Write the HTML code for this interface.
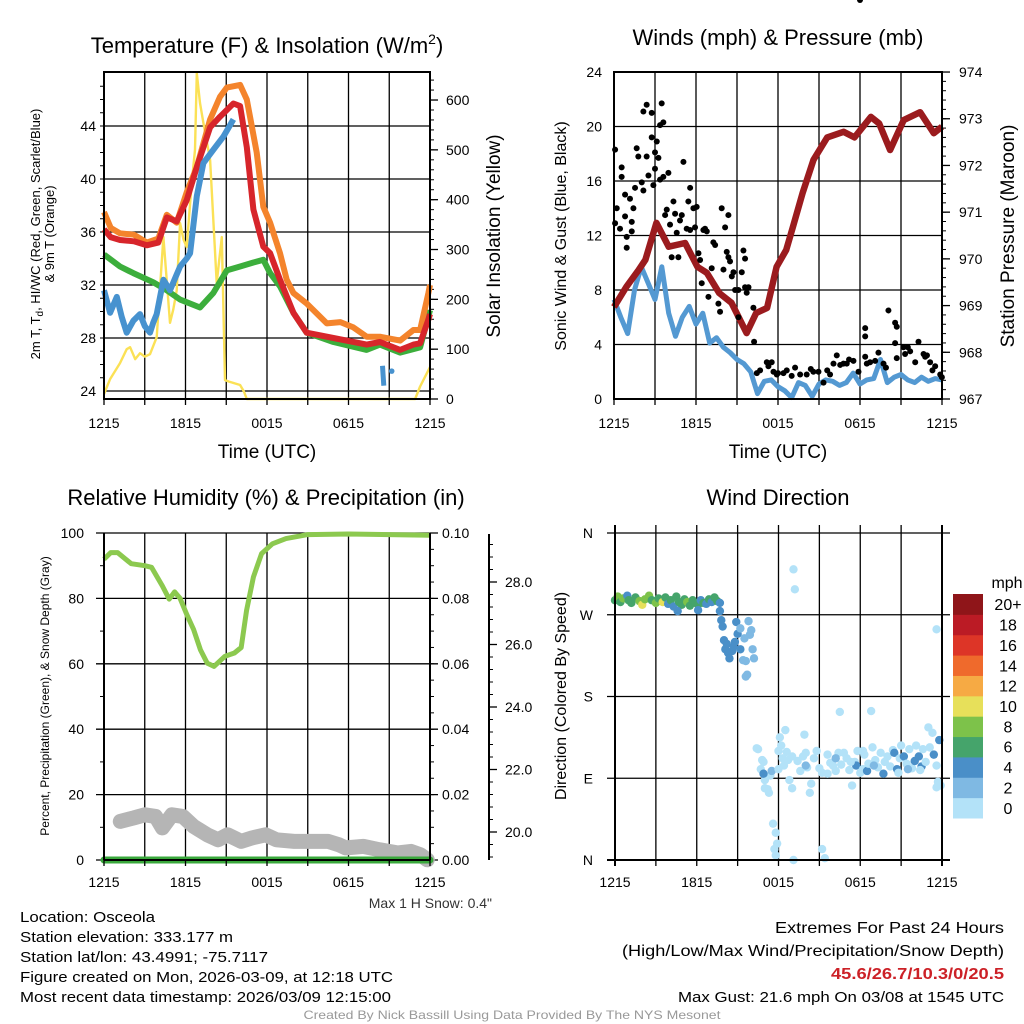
<!DOCTYPE html>
<html><head><meta charset="utf-8"><style>
html,body{margin:0;padding:0;background:#fff;}
svg{display:block;font-family:"Liberation Sans",Arial,sans-serif;}
</style></head><body>
<svg id="c" width="1024" height="1024" viewBox="0 0 1024 1024" xmlns="http://www.w3.org/2000/svg"></svg>
<script>
// ---- Panel 1 data: temperature (F) & insolation ----
const orangeH=[0,0.5,1.18,2.2,3.15,4.0,4.62,5.35,6.09,6.83,7.81,8.54,9.04,10.02,10.51,11.24,11.73,12.23,12.96,13.45,13.94,14.92,16.4,17.4,18.36,19.34,20.32,21.8,22.78,23.27,23.88,24];
const orangeT=[37.5,36.3,35.9,35.8,35.2,35.5,37.3,36.7,39,40.9,44.5,46.2,46.9,47.1,46,42,37.9,36.7,34.4,32.4,31.4,30.6,29.1,29.2,28.8,28.1,28.1,27.8,28.6,28.6,31.4,32];
const redH=[0,0.5,1.18,2.2,3.15,4.0,4.62,5.35,6.09,6.83,7.81,8.54,9.53,10.02,10.51,11.0,11.73,12.23,12.96,13.94,14.92,16.89,19.34,20.32,21.8,22.78,23.27,23.88,24];
const redT=[36.2,35.6,35.4,35.3,35,35.2,37.1,36.8,38.4,40.9,43.9,44.7,45.7,45.5,42.4,37.7,34.9,34.4,32.4,29.9,28.4,28,27.5,27.7,27.1,27.5,27.6,29.4,29.8];
const greenH=[0,1.18,2.16,3.64,4.62,5.6,7.07,8.05,9.04,10.02,11.0,11.73,12.23,12.96,13.94,14.92,16.89,19.34,20.32,21.8,23.27,24];
const greenT=[34.3,33.4,32.9,32.2,31.6,30.9,30.3,31.4,33.1,33.4,33.7,33.9,32.9,31.9,29.9,28.4,27.7,27.1,27.5,26.9,27.3,30.1];
const hiwcH=[0,0.45,0.94,1.3,1.67,2.16,2.65,3.0,3.39,3.64,3.88,4.37,4.86,5.35,5.6,6.09,6.34,6.83,7.32,8.05,8.79,9.53];
const hiwcT=[31.6,29.9,31.1,29.6,28.4,29.3,29.8,28.9,28.4,29.2,29.8,32.4,31.6,32.8,33.4,34,34.4,38.7,41.2,42.2,43.2,44.5];
const hiwc2H=[20.5,20.55,20.6,21.18];
const hiwc2T=[25.9,25.2,24.4,25.5];
const solarH=[0,0.45,1.18,1.67,1.92,2.3,2.65,3.0,3.39,3.88,4.37,4.86,5.1,5.35,5.6,5.85,6.09,6.46,6.7,6.83,7.07,7.32,7.81,8.3,8.67,8.91,9.2,10.02,10.3,10.51,22.9,23.27,24];
const solarV=[10,40,72,100,104,80,92,85,90,124,325,153,180,218,353,320,305,433,500,654,594,554,480,233,325,38,35,28,15,0,0,25,64];
const tempTicks=[24,28,32,36,40,44];
const solarTicks=[0,100,200,300,400,500,600];
const timeLabels=["1215","1815","0015","0615","1215"];

// ---- Panel 2 data: winds & pressure ----
const presH=[0,0.9,1.8,2.3,3.1,4,5.2,6.1,6.8,7.7,8.6,9.7,10.4,11.2,11.9,12.6,13.1,13.8,14.6,15.6,16.8,17.6,18.8,19.4,20.2,21.2,22.4,23.4,24];
const presV=[968.97,969.4,969.76,969.98,970.77,970.26,970.34,969.83,969.7,969.27,969.06,968.41,968.84,968.95,969.83,970.19,970.69,971.41,972.12,972.6,972.72,972.6,973.04,972.9,972.33,972.97,973.14,972.69,972.83];
const windV=[7.3,6,4.8,8,9.7,8.5,7.3,9.7,6.3,4.6,6,6.8,5.5,6.3,4.1,4.5,3.8,3.4,2.9,2.6,2.0,0.4,1.3,1.4,0.9,0.6,0.1,1.2,1.0,0.2,1.1,1.4,1.3,1.0,1.2,1.9,1.1,1.4,1.5,2.9,1.2,1.6,1.8,1.4,1.2,1.6,1.3,1.5,1.4];
const gustH=[0.08,0.08,0.2,0.56,0.56,0.44,0.81,0.93,0.93,0.81,1.3,1.17,1.42,1.3,1.54,1.66,1.78,2.03,2.15,2.15,2.39,2.39,2.52,2.76,2.76,2.88,3.0,3.13,3.0,3.25,3.37,3.49,3.61,3.37,3.61,3.98,3.86,3.74,4.1,4.22,4.35,4.47,4.59,4.83,4.71,4.96,5.08,5.32,5.44,5.57,5.57,5.81,5.93,6.05,6.18,6.3,6.42,6.54,6.66,6.79,6.91,7.15,7.27,7.4,7.64,7.76,7.88,8.13,8.01,8.25,8.37,8.37,8.49,8.62,8.74,8.86,9.1,9.1,9.35,9.47,9.59,9.59,9.84,9.71,10.2,10.25,10.45,10.69,11.18,11.54,11.67,11.91,12.4,12.64,13.25,13.62,14.1,14.59,14.96,15.33,15.81,16.06,16.55,16.79,17.03,17.52,17.89,18.38,18.38,18.38,18.5,18.74,19.11,19.35,19.72,20.08,20.57,20.57,20.69,20.69,21.18,21.3,21.67,22.04,22.28,22.65,22.77,23.13,23.5,23.87,23.99,12.0,13.0,14.4,15.6,17.2,19.9,21.5,22.9,23.3,11.3,16.3,18.0];
const gustV=[18.3,12.9,14,17,16.3,12.5,13.4,11.9,11.1,15,13,14.7,14,12.3,15.5,18.4,17.8,15.9,15.3,21.1,21.6,17.8,16.4,21,19.2,15.7,18.1,18.9,16.9,17.7,20.1,21.7,20.3,16.1,16.3,16.6,13.9,13.5,12.8,10.4,14.5,13.6,12.2,13.1,10.4,13.5,17.4,12.5,14.5,15.5,12.4,14,12.6,14.1,10.7,10.2,8.5,12.4,12.5,12.3,7.5,9.6,11.5,11.3,7.0,6.4,14,12.6,9.5,10.8,10.4,13.5,10.1,9.0,9.3,8,8,6,9.3,10.9,10.3,8.2,8.2,7.8,6.7,4.2,1.9,2.1,2.7,2.7,2.0,1.8,1.9,2.1,2.3,1.8,1.8,2.0,2.0,1.2,1.8,2.6,2.5,2.6,2.6,2.8,2.0,3.1,4.6,5.2,2.6,2.7,2.8,3.4,2.6,6.5,5.6,4.1,3.0,5.3,3.8,3.3,3.5,2.7,4.2,3.3,3.1,2.7,2.4,1.8,1.6,1.9,1.7,2.2,2.1,2.9,2.3,3.8,3.2,2.1,2.4,3.2];
const windTicks=[0,4,8,12,16,20,24];
const presTicks=[967,968,969,970,971,972,973,974];

// ---- Panel 3 data: RH, precip, snow depth ----
const rhH=[0,0.5,1.0,2,3,3.5,4.3,4.8,5.2,5.6,6.1,6.6,7.1,7.6,8.1,8.9,9.6,10.1,10.5,11,11.6,12.4,13.4,15,18,21,24];
const rhV=[92,94,94,90.6,90,89.5,83.8,79.8,82,80,75,70.5,64.3,60.2,59.2,62.3,63.3,65,76.4,86.5,93.7,96.7,98.3,99.5,99.7,99.5,99.3];
const precipH=[0,24];
const precipV=[0,0];
const sdH=[1.2,2.2,3,3.8,4.3,5.0,5.8,6.6,7.6,8.4,9.1,10.1,10.9,11.9,12.7,14,16.5,17.3,17.8,19.1,20.3,21.6,22.6,23.3,23.8];
const sdV=[20.34,20.45,20.55,20.5,20.13,20.55,20.5,20.18,19.91,19.75,19.91,19.7,19.81,19.91,19.75,19.7,19.7,19.59,19.49,19.54,19.43,19.33,19.38,19.27,19.11];
const rhTicks=[0,20,40,60,80,100];
const precipTicks=["0.00","0.02","0.04","0.06","0.08","0.10"];
const sdTicks=[20,22,24,26,28];

// ---- Panel 4 data: wind direction coloured by speed ----
const dirH=[0.0,0.2,0.4,0.6,0.9,1.0,1.2,1.5,1.8,2.0,2.2,2.5,2.7,3.0,3.2,3.5,3.7,3.9,4.1,4.3,4.5,4.7,4.9,5.1,5.3,5.5,5.7,5.9,6.1,6.3,6.5,6.7,6.9,7.1,7.3,7.5,7.7,4.6,6.1,
7.7,7.8,7.9,8.0,8.1,8.3,8.2,8.4,8.6,8.7,8.9,9.0,8.8,9.2,9.4,9.6,9.8,9.9,10.0,10.1,10.2,9.6,9.7,9.2,9.5,
10.4,10.5,10.7,10.9,11.0,11.0,11.2,11.4,10.9,11.3,11.6,11.8,11.9,11.8,11.7,12.0,12.1,12.2,12.3,12.4,12.5,12.6,12.7,12.8,13.0,13.1,13.2,13.1,13.4,13.6,13.8,13.9,14.0,14.1,14.3,14.4,14.6,14.8,15.0,15.2,15.2,15.4,15.6,15.8,16.0,16.2,16.4,16.5,16.6,16.8,17.0,17.2,17.4,17.6,17.7,17.8,18.0,18.2,18.3,18.5,18.6,18.8,18.9,19.1,19.3,19.5,19.7,19.8,20.0,20.2,20.4,20.5,20.7,20.9,21.0,21.2,21.4,21.6,21.8,22.0,22.1,22.3,22.5,22.6,22.8,23.0,23.1,23.3,23.4,23.6,23.7,23.6,23.8,23.9,23.6,11.5,14.0,16.2,19.0,21.5,17.3,13.0,12.0,15.6,18.2,20.8,22.4,10.8];
const dirV=[286,290,284,288,291,286,283,289,285,281,287,291,286,283,288,284,289,282,286,279,290,284,281,287,284,280,286,283,281,286,283,282,287,284,289,285,283,274,275,
274,264,257,242,232,228,238,222,230,235,262,249,240,232,220,219,263,248,253,232,222,202,204,255,244,
123,122,100,108,88,79,78,93,95,74,40,30,18,5,12,120,135,126,112,104,143,119,110,88,79,320,298,0,109,98,114,138,118,102,74,84,112,120,101,96,12,2,116,107,104,98,118,163,105,118,112,99,82,108,104,120,96,100,116,98,106,164,124,110,102,118,95,108,114,103,121,118,100,112,126,114,106,122,101,109,126,114,103,122,108,146,124,140,116,104,86,254,132,82,80,98,104,112,104,100,108,114,100,95,120,96,99,110];
const dirS=[7,8,6,9,4,6,7,6,8,10,9,8,7,8,7,10,6,5,6,4,7,6,6,6,8,6,6,6,6,4,6,4,6,4,6,6,4,4,4,
4,4,4,4,4,4,4,4,4,4,4,4,4,4,3,2,2,3,2,2,2,2,2,2,2,
1,1,1,1,1,1,1,1,4,1,1,1,1,1,1,1,1,1,1,1,1,1,1,1,1,1,1,1,1,1,1,1,1,1,1,1,1,1,1,1,1,1,1,1,1,1,1,1,1,1,1,1,1,1,4,1,1,1,1,4,1,1,1,1,1,1,4,1,1,1,1,4,4,1,1,4,1,1,1,4,1,4,4,1,1,1,1,1,4,1,1,1,4,1,1,2,2,2,2,2,1,1,1,1,1,1,1,1];
const dirTicks=["N","W","S","E","N"];
const dirTickVals=[360,270,180,90,0];
const speedBins=["0","2","4","6","8","10","12","14","16","18","20+"];
const binColors=["#b3e2f8","#7fb9e3","#4a8fc8","#45a46b","#7dc24a","#e7e05a","#f6aa44","#ef6a2c","#dd3527","#bb1b25","#8f1519"];

const NS="http://www.w3.org/2000/svg";
const svg=document.getElementById('c');
function mk(tag,attrs,parent){const e=document.createElementNS(NS,tag);for(const k in attrs)e.setAttribute(k,attrs[k]);(parent||svg).appendChild(e);return e;}
function txt(x,y,s,size,anchor,extra,parent){const e=mk('text',Object.assign({x:x,y:y,'font-size':size,'text-anchor':anchor||'middle',fill:'#000'},extra||{}),parent);e.textContent=s;return e;}
function pathFrom(xs,ys,fx,fy){let d='';for(let i=0;i<xs.length;i++)d+=(i?'L':'M')+fx(xs[i]).toFixed(1)+' '+fy(ys[i]).toFixed(1);return d;}

// ================= PANEL 1 =================
{
const L=104,R=430,T=72,B=399;
const X=h=>L+h*(R-L)/24;
const Y=t=>391-(t-24)*13.25;
const YS=s=>399-s*0.4983;
const g=mk('g',{});


for(let h=3;h<24;h+=3){const l=mk('line',{x1:X(h),x2:X(h),y1:T,y2:B,stroke:'#000','stroke-width':1.3},g);}
tempTicks.forEach(t=>{const l=mk('line',{x1:L,x2:R,y1:Y(t),y2:Y(t),stroke:'#000','stroke-width':1.3},g);
 const tl=txt(L-8,Y(t)+5,String(t),14,'end',{});});
for(let t=25;t<48;t++){mk('line',{x1:L-4,x2:L,y1:Y(t),y2:Y(t),stroke:'#000','stroke-width':1},g);}
solarTicks.forEach(s=>{mk('line',{x1:R,x2:R+8,y1:YS(s),y2:YS(s),stroke:'#000','stroke-width':1.3},g);
 const tl=txt(R+16,YS(s)+5,String(s),14,'start',{});});
for(let s=20;s<660;s+=20){mk('line',{x1:R,x2:R+4,y1:YS(s),y2:YS(s),stroke:'#000','stroke-width':1},g);}
const ys=mk('path',{d:pathFrom(solarH,solarV,X,YS),fill:'none',stroke:'#fbe156','stroke-width':2.4,'stroke-linejoin':'round'},g);

const gr=mk('path',{d:pathFrom(greenH,greenT,X,Y),fill:'none',stroke:'#3cae3c','stroke-width':6,'stroke-linejoin':'round'},g);

const or=mk('path',{d:pathFrom(orangeH,orangeT,X,Y),fill:'none',stroke:'#f4842c','stroke-width':6,'stroke-linejoin':'round'},g);

const rd=mk('path',{d:pathFrom(redH,redT,X,Y),fill:'none',stroke:'#d7252b','stroke-width':6,'stroke-linejoin':'round'},g);

const bl=mk('path',{d:pathFrom(hiwcH,hiwcT,X,Y),fill:'none',stroke:'#4792cf','stroke-width':6,'stroke-linejoin':'round'},g);

const bl2=mk('path',{d:pathFrom(hiwc2H.slice(0,3),hiwc2T.slice(0,3),X,Y),fill:'none',stroke:'#4792cf','stroke-width':5},g);

const bd=mk('circle',{cx:X(hiwc2H[3]),cy:Y(hiwc2T[3]),r:2.8,fill:'#4792cf'},g);

const fr=mk('rect',{x:L,y:T,width:R-L,height:B-T,fill:'none',stroke:'#000','stroke-width':2},g);

for(let h=0;h<=24;h+=3){mk('line',{x1:X(h),x2:X(h),y1:B,y2:B+6,stroke:'#000','stroke-width':1.3},g);}
timeLabels.forEach((s,i)=>{const tl=txt(X(i*6),428,s,14,'middle',{});});
const t1=txt(267,53,'Temperature (F) & Insolation (W/m',22,'middle',{});
const sup=document.createElementNS(NS,'tspan');sup.setAttribute('dy','-9');sup.setAttribute('font-size','14');sup.textContent='2';t1.appendChild(sup);
const sup2=document.createElementNS(NS,'tspan');sup2.setAttribute('dy','9');sup2.textContent=')';t1.appendChild(sup2);

const xt=txt(267,458,'Time (UTC)',19,'middle',{});
const yl=txt(0,0,'2m T, T',13,'middle',{transform:'translate(40,234) rotate(-90)'});
const sb=document.createElementNS(NS,'tspan');sb.setAttribute('font-size','10');sb.setAttribute('dy','3');sb.textContent='d';yl.appendChild(sb);
const sb2=document.createElementNS(NS,'tspan');sb2.setAttribute('dy','-3');sb2.textContent=', HI/WC (Red, Green, Scarlet/Blue)';yl.appendChild(sb2);

const yl2=txt(0,0,'& 9m T (Orange)',13,'middle',{transform:'translate(54,234) rotate(-90)'});

const yr=txt(0,0,'Solar Insolation (Yellow)',19,'middle',{transform:'translate(500,236) rotate(-90)'});

}

// ================= PANEL 2 =================
{
const L=614,R=942,T=72,B=399;
const X=h=>L+h*(R-L)/24;
const Y=v=>399-v*13.625;
const YP=p=>399-(p-967)*46.71;
const g=mk('g',{});


for(let h=3;h<24;h+=3){mk('line',{x1:X(h),x2:X(h),y1:T,y2:B,stroke:'#000','stroke-width':1.3},g);}
windTicks.forEach(v=>{mk('line',{x1:L,x2:R,y1:Y(v),y2:Y(v),stroke:'#000','stroke-width':1.3},g);
 const tl=txt(L-12,Y(v)+5,String(v),14,'end',{});});
presTicks.forEach(p=>{mk('line',{x1:R,x2:R+8,y1:YP(p),y2:YP(p),stroke:'#000','stroke-width':1.3},g);
 const tl=txt(R+17,YP(p)+5,String(p),14,'start',{});});
for(let p=967.2;p<974;p+=0.2){mk('line',{x1:R,x2:R+4,y1:YP(p),y2:YP(p),stroke:'#000','stroke-width':1},g);}
const wH=windV.map((v,i)=>i*0.5);
const wl=mk('path',{d:pathFrom(wH,windV,X,Y),fill:'none',stroke:'#5499d2','stroke-width':5,'stroke-linejoin':'round'},g);

const pl=mk('path',{d:pathFrom(presH,presV,X,YP),fill:'none',stroke:'#9b1b1e','stroke-width':6.5,'stroke-linejoin':'round'},g);

for(let i=0;i<gustH.length;i++){const c=mk('circle',{cx:X(gustH[i]),cy:Y(gustV[i]),r:3,fill:'#000'},g);
 
 }
const fr=mk('rect',{x:L,y:T,width:R-L,height:B-T,fill:'none',stroke:'#000','stroke-width':2},g);

for(let h=0;h<=24;h+=3){mk('line',{x1:X(h),x2:X(h),y1:B,y2:B+6,stroke:'#000','stroke-width':1.3},g);}
timeLabels.forEach((s,i)=>{const tl=txt(X(i*6),428,s,14,'middle',{});});
const t1=txt(778,45,'Winds (mph) & Pressure (mb)',22,'middle',{});
const xt=txt(778,458,'Time (UTC)',19,'middle',{});
const yl=txt(0,0,'Sonic Wind & Gust (Blue, Black)',16,'middle',{transform:'translate(566,236) rotate(-90)'});
const yr=txt(0,0,'Station Pressure (Maroon)',19,'middle',{transform:'translate(1014,236) rotate(-90)'});
}

// ================= PANEL 3 =================
{
const L=104,R=430,T=533,B=860;
const X=h=>L+h*(R-L)/24;
const Y=v=>860-v*3.27;
const YPr=p=>860-p*3270;
const YSd=s=>832-(s-20)*31.25;
const g=mk('g',{});


for(let h=3;h<24;h+=3){mk('line',{x1:X(h),x2:X(h),y1:T,y2:B,stroke:'#000','stroke-width':1.3},g);}
rhTicks.forEach(v=>{mk('line',{x1:L-8,x2:R+8,y1:Y(v),y2:Y(v),stroke:'#000','stroke-width':1.3},g);
 const tl=txt(L-20,Y(v)+5,String(v),14,'end',{});});
for(let v=10;v<100;v+=20){mk('line',{x1:L-4,x2:L,y1:Y(v),y2:Y(v),stroke:'#000','stroke-width':1},g);}
precipTicks.forEach((s,i)=>{const tl=txt(R+12,Y(i*20)+5,s,14,'start',{});});
for(let v=5;v<100;v+=5){mk('line',{x1:R,x2:R+4,y1:Y(v),y2:Y(v),stroke:'#000','stroke-width':1},g);}
const ax3=mk('line',{x1:489,x2:489,y1:534,y2:860,stroke:'#000','stroke-width':2},g);

sdTicks.forEach(s=>{mk('line',{x1:489,x2:497,y1:YSd(s),y2:YSd(s),stroke:'#000','stroke-width':1.3},g);
 const tl=txt(505,YSd(s)+5,s.toFixed(1),14,'start',{});});
for(let s=19.2;s<29.4;s+=0.4){mk('line',{x1:489,x2:493,y1:YSd(s),y2:YSd(s),stroke:'#000','stroke-width':1},g);}
const sd=mk('path',{d:pathFrom(sdH,sdV,X,YSd),fill:'none',stroke:'#b5b5b5','stroke-width':15,'stroke-linejoin':'round','stroke-linecap':'round'},g);

const pr=mk('path',{d:pathFrom(precipH,precipV,X,YPr),fill:'none',stroke:'#3aa83c','stroke-width':7,'stroke-linecap':'round'},g);

const rh=mk('path',{d:pathFrom(rhH,rhV,X,Y),fill:'none',stroke:'#8cc94f','stroke-width':5,'stroke-linejoin':'round'},g);

mk('line',{x1:L,x2:L,y1:T,y2:B,stroke:'#000','stroke-width':2},g);
mk('line',{x1:R,x2:R,y1:T,y2:B,stroke:'#000','stroke-width':2},g);
mk('line',{x1:L,x2:R,y1:B,y2:B,stroke:'#000','stroke-width':2},g);
for(let h=0;h<=24;h+=3){mk('line',{x1:X(h),x2:X(h),y1:B,y2:B+6,stroke:'#000','stroke-width':1.3},g);}
timeLabels.forEach((s,i)=>{const tl=txt(X(i*6),887,s,14,'middle',{});});
const t1=txt(266,505,'Relative Humidity (%) & Precipitation (in)',22,'middle',{});
const yl=txt(0,0,'Percent, Precipitation (Green), & Snow Depth (Gray)',12,'middle',{transform:'translate(49,696) rotate(-90)'});
const ms=txt(492,908,'Max 1 H Snow: 0.4"',14,'end',{fill:'#333'});
}

// ================= PANEL 4 =================
{
const L=615,R=942,T=533,B=860;
const X=h=>L+h*(R-L)/24;
const Y=d=>860-d*0.9083;
const g=mk('g',{});


for(let h=3;h<24;h+=3){mk('line',{x1:X(h),x2:X(h),y1:T-8,y2:B,stroke:'#000','stroke-width':1.3},g);}
dirTickVals.forEach((d,i)=>{mk('line',{x1:L-8,x2:R+8,y1:Y(d),y2:Y(d),stroke:'#000','stroke-width':1.3},g);
 const tl=txt(L-22,Y(d)+5,dirTicks[i],14,'end',{});});
for(let i=0;i<dirH.length;i++){
 const b=Math.min(10,Math.floor(dirS[i]/2));
 const c=mk('circle',{cx:X(dirH[i]),cy:Y(dirV[i]),r:4.2,fill:binColors[b]},g);
 
 
}
mk('line',{x1:L,x2:L,y1:T-8,y2:B+6,stroke:'#000','stroke-width':2},g);
mk('line',{x1:R,x2:R,y1:T-8,y2:B+6,stroke:'#000','stroke-width':2},g);
mk('line',{x1:L-8,x2:R+8,y1:B,y2:B,stroke:'#000','stroke-width':2},g);
for(let h=0;h<=24;h+=3){mk('line',{x1:X(h),x2:X(h),y1:B,y2:B+6,stroke:'#000','stroke-width':1.3},g);}
timeLabels.forEach((s,i)=>{const tl=txt(X(i*6),887,s,14,'middle',{});});
const t1=txt(778,505,'Wind Direction',22,'middle',{});
const yl=txt(0,0,'Direction (Colored By Speed)',16,'middle',{transform:'translate(566,696) rotate(-90)'});
const cb=mk('g',{});


const bh=(818-594)/11;
speedBins.forEach((s,i)=>{const y=818-(i+1)*bh;
 const r=mk('rect',{x:953,y:y,width:30,height:bh+0.5,fill:binColors[i]},cb);
 
 
 const tl=txt(1008,y+bh/2+6,s,16,'middle',{},cb);});
const mp=txt(1007,588,'mph',16,'middle',{});
}

// ================= FOOTER TEXT =================
const info=[["Location: Osceola",135],["Station elevation: 333.177 m",213],["Station lat/lon: 43.4991; -75.7117",248],["Figure created on Mon, 2026-03-09, at 12:18 UTC",373],["Most recent data timestamp: 2026/03/09 12:15:00",371]];
info.forEach((r,i)=>{const t=txt(20,922+i*20,r[0],15,'start',{textLength:r[1],lengthAdjust:'spacingAndGlyphs'});});
const e1=txt(1004,933,'Extremes For Past 24 Hours',16,'end',{textLength:229,lengthAdjust:'spacingAndGlyphs'});
const e2=txt(1004,956,'(High/Low/Max Wind/Precipitation/Snow Depth)',16,'end',{textLength:382,lengthAdjust:'spacingAndGlyphs'});
const e3=txt(1004,979,'45.6/26.7/10.3/0/20.5',16,'end',{fill:'#cc2127','font-weight':'bold',textLength:173,lengthAdjust:'spacingAndGlyphs'});
const e4=txt(1004,1002,'Max Gust: 21.6 mph On 03/08 at 1545 UTC',15,'end',{textLength:326,lengthAdjust:'spacingAndGlyphs'});
const cr=txt(512,1019,'Created By Nick Bassill Using Data Provided By The NYS Mesonet',12,'middle',{fill:'#999',textLength:417,lengthAdjust:'spacingAndGlyphs'});
</script>
</body></html>
